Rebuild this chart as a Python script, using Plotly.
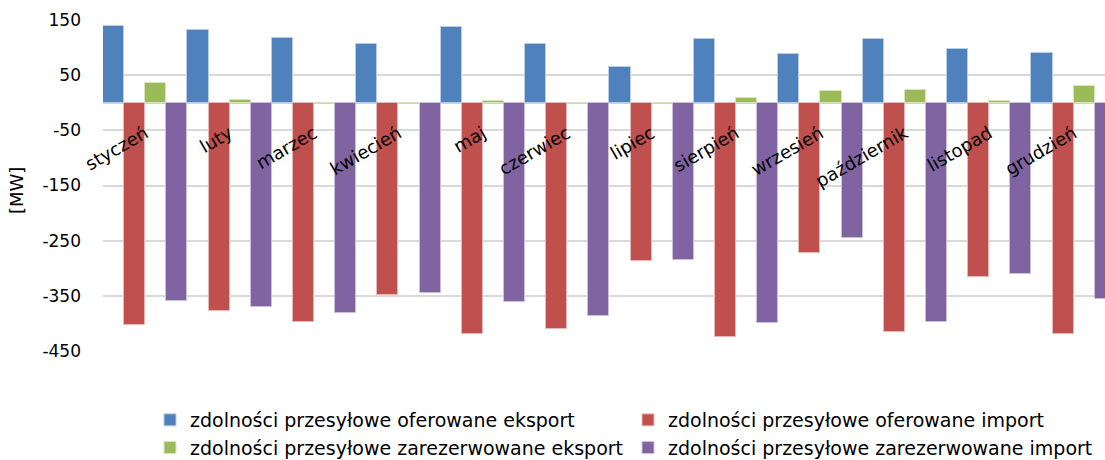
import plotly.graph_objects as go

# Monthly cross-border capacity, MW
months = ["styczeń", "luty", "marzec", "kwiecień", "maj", "czerwiec",
          "lipiec", "sierpień", "wrzesień", "październik", "listopad", "grudzień"]
offered_export = [140, 132, 118, 106, 138, 106, 65, 115, 88, 115, 97, 91]
offered_import = [-403, -377, -398, -349, -419, -411, -286, -424, -273, -416, -316, -419]
reserved_export = [36, 5, 0, 0, 3, 0, 0, 9, 22, 23, 3, 31]
reserved_import = [-359, -371, -381, -345, -362, -387, -285, -400, -245, -398, -310, -355]

y_ticks = [150, 50, -50, -150, -250, -350, -450]
y_tick_text = ["150", "50", "-50", "-150", "-250", "-350", "-450"]

series = [
    ("zdolności przesyłowe oferowane eksport", offered_export, "#4F81BD", "#B9CDE5"),
    ("zdolności przesyłowe oferowane import", offered_import, "#C0504D", "#E6B9B8"),
    ("zdolności przesyłowe zarezerwowane eksport", reserved_export, "#9BBB59", "#D7E4BD"),
    ("zdolności przesyłowe zarezerwowane import", reserved_import, "#8064A2", "#CCC1DA"),
]

FONT = "DejaVu Sans"

fig = go.Figure()
for name, vals, color, edge in series:
    fig.add_trace(go.Bar(
        x=months, y=vals, name=name,
        marker=dict(color=color, line=dict(color=edge, width=1)),
    ))

W, H = 1105, 460
ml, mr, mt, mb = 103, 0, 20, 109
plot_w = W - ml - mr
band = 84.4  # px per month
x_hi = -0.5 + plot_w / band

ymin, ymax = -450, 150

fig.update_layout(
    width=W, height=H,
    margin=dict(l=ml, r=mr, t=mt, b=mb, pad=0, autoexpand=False),
    paper_bgcolor="white", plot_bgcolor="white",
    barmode="group", bargap=0, bargroupgap=0,
    font=dict(family=FONT, size=17, color="#000000"),
    showlegend=True,
    legend=dict(
        orientation="h",
        xref="container", x=150 / W, xanchor="left",
        yref="container", y=1 - 401 / H, yanchor="top",
        entrywidth=433, entrywidthmode="pixels",
        font=dict(family=FONT, size=19, color="#000000"),
        itemclick=False, tracegroupgap=0,
    ),
    xaxis=dict(
        type="category", range=[-0.5, x_hi],
        anchor="free", position=(0 - ymin) / (ymax - ymin),
        showline=False, showgrid=False, ticks="",
        tickangle=-30, tickfont=dict(family=FONT, size=18, color="#000000"),
        ticklabelstandoff=16,
    ),
    yaxis=dict(
        range=[ymin, ymax], tickvals=y_ticks, ticktext=y_tick_text,
        showgrid=True, gridcolor="#D9D9D9", gridwidth=2,
        zeroline=True, zerolinecolor="#D0D0D0", zerolinewidth=2,
        showline=False, ticks="",
        tickfont=dict(family=FONT, size=17, color="#000000"),
        ticklabelstandoff=21,
    ),
    annotations=[dict(
        text="[MW]", textangle=-90, showarrow=False,
        xref="paper", x=(16 - ml) / plot_w, xanchor="center",
        yref="paper", y=1 - (191 - mt) / (H - mt - mb), yanchor="middle",
        font=dict(family=FONT, size=18, color="#000000"),
    )],
)

fig.write_html("out.html")
